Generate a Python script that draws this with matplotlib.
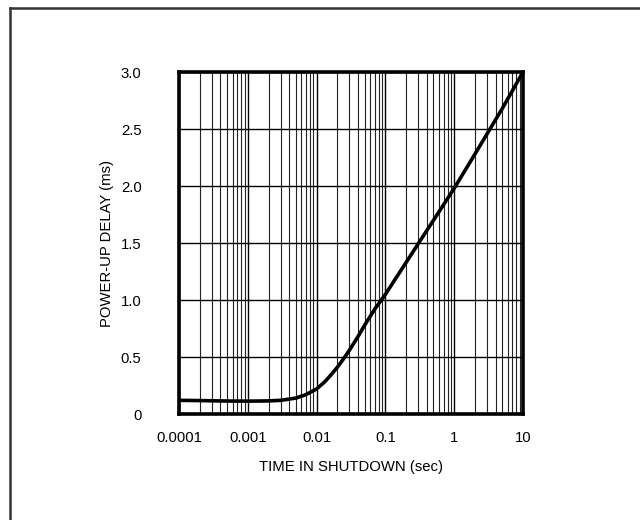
import matplotlib
matplotlib.use("Agg")
import matplotlib.pyplot as plt
from matplotlib.lines import Line2D
from matplotlib.ticker import LogLocator, FixedLocator, NullFormatter

plt.rcParams['font.family'] = ['Liberation Sans', 'DejaVu Sans']

# time in shutdown (sec) and power-up delay (ms)
t_shutdown = [1e-4, 2e-4, 5e-4, 1e-3, 2e-3, 3e-3, 5e-3, 7e-3, 0.01, 0.013,
              0.016, 0.02, 0.025, 0.03, 0.04, 0.05, 0.07, 0.1, 0.2, 0.5,
              1, 2, 5, 10]
delay_ms = [0.12, 0.118, 0.114, 0.113, 0.115, 0.12, 0.14, 0.17, 0.22, 0.28,
            0.34, 0.41, 0.49, 0.56, 0.68, 0.78, 0.92, 1.05, 1.33, 1.70,
            1.98, 2.28, 2.68, 3.0]

x_ticks = [1e-4, 1e-3, 1e-2, 1e-1, 1, 10]
x_labels = ["0.0001", "0.001", "0.01", "0.1", "1", "10"]
y_ticks = [0, 0.5, 1.0, 1.5, 2.0, 2.5, 3.0]
y_labels = ["0", "0.5", "1.0", "1.5", "2.0", "2.5", "3.0"]

fig = plt.figure(figsize=(6.4, 5.2), dpi=100)
ax = fig.add_axes([0.2797, 0.2038, 0.5375, 0.6577])

ax.plot(t_shutdown, delay_ms, color="black", lw=2.6, solid_capstyle="round", zorder=3)

ax.set_xscale("log")
ax.set_xlim(1e-4, 10)
ax.set_ylim(0, 3.0)
ax.xaxis.set_major_locator(FixedLocator(x_ticks))
ax.set_xticklabels(x_labels)
ax.xaxis.set_minor_locator(LogLocator(base=10, subs=range(2, 10), numticks=20))
ax.xaxis.set_minor_formatter(NullFormatter())
ax.set_yticks(y_ticks)
ax.set_yticklabels(y_labels)

ax.grid(True, which="major", color="black", lw=1.0)
ax.grid(True, which="minor", axis="x", color="#222222", lw=0.8)
ax.tick_params(which="both", length=0, labelsize=10.7)
ax.tick_params(axis="x", pad=12)
ax.tick_params(axis="y", pad=27)
for s in ax.spines.values():
    s.set_linewidth(2.6)

ax.set_xlabel("TIME IN SHUTDOWN (sec)", fontsize=10.7, labelpad=11)
ax.set_ylabel("POWER-UP DELAY (ms)", fontsize=10.7, labelpad=5)

# outer frame (left and top edges)
fig.add_artist(Line2D([9.5 / 640, 9.5 / 640], [0, 1 - 8 / 520], transform=fig.transFigure,
                      color="#333333", lw=1.8))
fig.add_artist(Line2D([9.5 / 640, 1], [1 - 8 / 520, 1 - 8 / 520], transform=fig.transFigure,
                      color="#333333", lw=1.8))

fig.savefig("out.png", dpi=100)
